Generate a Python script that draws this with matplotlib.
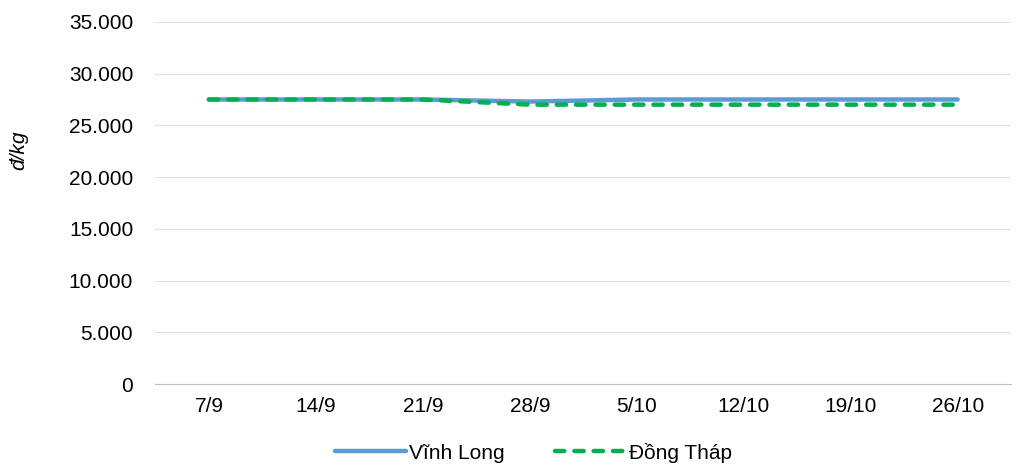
import matplotlib
matplotlib.use("Agg")
import matplotlib.pyplot as plt
from matplotlib.ticker import FuncFormatter

plt.rcParams["font.family"] = ["Liberation Sans", "DejaVu Sans"]

dates = ["7/9", "14/9", "21/9", "28/9", "5/10", "12/10", "19/10", "26/10"]
vinh_long = [27500, 27500, 27500, 27300, 27500, 27500, 27500, 27500]
dong_thap = [27500, 27500, 27500, 27000, 27000, 27000, 27000, 27000]

fig = plt.figure(figsize=(10.36, 4.65), dpi=100)
ax = fig.add_axes([0.150, 0.174, 0.826, 0.779])

x = list(range(len(dates)))
ax.plot(x, vinh_long, color="#5b9bd5", linewidth=3.2, solid_capstyle="round",
        label="Vĩnh Long", zorder=3)
ax.plot(x, dong_thap, color="#00b050", linewidth=3.2, linestyle=(0, (2.1, 2.25)),
        dash_capstyle="round", label="Đồng Tháp", zorder=4)

ax.set_ylim(0, 35000)
ax.set_yticks(range(0, 35001, 5000))
ax.yaxis.set_major_formatter(FuncFormatter(lambda v, p: f"{int(v):,}".replace(",", ".")))
ax.set_xlim(-0.5, len(dates) - 0.5)
ax.set_xticks(x)
ax.set_xticklabels(dates)

ax.grid(axis="y", color="#e0e0e0", linewidth=0.8)
ax.set_axisbelow(True)
for s in ["top", "right", "left"]:
    ax.spines[s].set_visible(False)
ax.spines["bottom"].set_color("#bfbfbf")
ax.tick_params(axis="y", length=0, labelsize=15, pad=16)
ax.tick_params(axis="x", length=0, labelsize=15, pad=9)

ax.set_ylabel("đ/kg", fontsize=15, style="italic")
ax.yaxis.set_label_coords(-0.149, 0.646)

fig.legend(loc="lower center", bbox_to_anchor=(0.515, -0.035), ncol=2, frameon=False,
           fontsize=15, handlelength=3.4, handletextpad=0.15, columnspacing=2.4)

fig.savefig("out.png", dpi=100)
